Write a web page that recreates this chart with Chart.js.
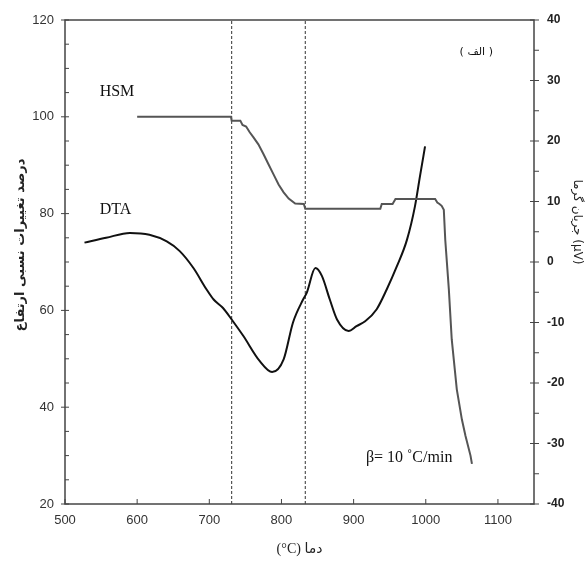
<!DOCTYPE html>
<html>
<head>
<meta charset="utf-8">
<script src="https://cdn.jsdelivr.net/npm/chart.js@4"></script>
<style>
  html, body { margin: 0; padding: 0; background: #fff; }
</style>
</head>
<body>
<canvas id="myChart" width="585" height="563"></canvas>
<script>
// HSM: relative height change (%), left axis
var hsmTemp = [600, 730, 731, 743, 746, 751, 756, 761, 768, 775, 782, 789, 796, 803, 810, 819, 831, 833, 937, 939, 954, 958, 1013, 1016, 1019, 1022, 1025, 1027, 1032, 1036, 1043, 1050, 1055, 1062, 1064];
var hsmValue = [100, 100, 99.2, 99.2, 98.3, 98.0, 96.8, 95.8, 94.3, 92.3, 90.2, 88.1, 86.0, 84.4, 83.1, 82.1, 82.0, 81.0, 81.0, 82.0, 82.0, 83.0, 83.0, 82.3, 82.0, 81.6, 80.8, 74.6, 64.3, 54.0, 43.7, 37.5, 34.1, 30.0, 28.3];

// DTA: heat flow (µV), right axis
var dtaTemp = [527, 557, 590, 617, 641, 659, 678, 696, 706, 719, 731, 747, 770, 787, 803, 816, 830, 835, 847, 856, 867, 877, 893, 904, 916, 932, 946, 960, 974, 985, 992, 999];
var dtaValue = [3.2, 4.0, 4.8, 4.5, 3.4, 1.8, -1.0, -4.5, -6.2, -7.6, -9.5, -12.2, -16.4, -18.2, -16.1, -10.0, -6.2, -5.1, -1.0, -2.3, -6.2, -9.5, -11.4, -10.6, -9.8, -7.8, -4.5, -0.7, 3.7, 9.2, 14.2, 19.1];

// vertical dashed markers (°C)
var markerTemps = [731, 833];

// axis ranges / ticks
var xTicks = [500, 1150, 100];
var leftTicks = [20, 120, 20];
var rightTicks = [-40, 40, 10];

function toPoints(xs, ys) {
    var pts = [];
    for (var i = 0; i < xs.length; i++) pts.push({ x: xs[i], y: ys[i] });
    return pts;
}

var datasets = [
    {
        label: 'HSM',
        data: toPoints(hsmTemp, hsmValue),
        yAxisID: 'y',
        borderColor: '#555',
        borderWidth: 2,
        pointRadius: 0,
        tension: 0
    },
    {
        label: 'DTA',
        data: toPoints(dtaTemp, dtaValue),
        yAxisID: 'y1',
        borderColor: '#111',
        borderWidth: 2,
        pointRadius: 0,
        cubicInterpolationMode: 'monotone'
    }
];
markerTemps.forEach(function(t) {
    datasets.push({
        label: 'marker',
        data: [{ x: t, y: leftTicks[0] }, { x: t, y: leftTicks[1] }],
        yAxisID: 'y',
        borderColor: '#333',
        borderWidth: 1,
        borderDash: [3, 2],
        pointRadius: 0
    });
});

// frame, tick marks and in-plot labels
var framePlugin = {
    id: 'frame',
    afterDatasetsDraw: function(chart) {
        var ctx = chart.ctx, a = chart.chartArea;
        var sx = chart.scales.x, sl = chart.scales.y, sr = chart.scales.y1;
        ctx.save();
        ctx.strokeStyle = '#444';
        ctx.lineWidth = 1.5;
        ctx.strokeRect(a.left, a.top, a.right - a.left, a.bottom - a.top);

        ctx.lineWidth = 1;
        ctx.beginPath();
        sx.ticks.forEach(function(t) {
            var px = sx.getPixelForValue(t.value);
            ctx.moveTo(px, a.bottom);
            ctx.lineTo(px, a.bottom - 5);
        });
        for (var v = leftTicks[0]; v <= leftTicks[1]; v += leftTicks[2] / 4) {
            var py = sl.getPixelForValue(v);
            if ((v - leftTicks[0]) % leftTicks[2] === 0) { ctx.moveTo(a.left - 4, py); ctx.lineTo(a.left + 4, py); }
            else { ctx.moveTo(a.left, py); ctx.lineTo(a.left + 4, py); }
        }
        for (var w = rightTicks[0]; w <= rightTicks[1]; w += rightTicks[2] / 2) {
            var qy = sr.getPixelForValue(w);
            if ((w - rightTicks[0]) % rightTicks[2] === 0) { ctx.moveTo(a.right - 4, qy); ctx.lineTo(a.right + 5, qy); }
            else { ctx.moveTo(a.right, qy); ctx.lineTo(a.right + 5, qy); }
        }
        ctx.stroke();

        // labels inside the plot, anchored in data units
        ctx.fillStyle = '#111';
        ctx.textBaseline = 'middle';
        ctx.textAlign = 'left';
        ctx.font = '16px "Liberation Serif"';
        ctx.fillText('HSM', sx.getPixelForValue(548), sl.getPixelForValue(105.2));
        ctx.fillText('DTA', sx.getPixelForValue(548), sl.getPixelForValue(80.8));
        ctx.fillText('β= 10 ˚C/min', sx.getPixelForValue(917), sl.getPixelForValue(29.5));
        ctx.textAlign = 'center';
        ctx.font = '11px "DejaVu Sans"';
        ctx.fillText('( الف )', sx.getPixelForValue(1070), sl.getPixelForValue(113.4));

        // axis titles
        ctx.fillStyle = '#222';
        ctx.font = 'bold 13px "DejaVu Sans"';
        ctx.translate(21, 245);
        ctx.rotate(-Math.PI / 2);
        ctx.fillText('درصد تغییرات نسبی ارتفاع', 0, 0);
        ctx.rotate(Math.PI / 2);
        ctx.translate(-21, -245);
        ctx.font = '12px "DejaVu Sans"';
        ctx.translate(577, 222);
        ctx.rotate(Math.PI / 2);
        ctx.fillText('جریان گرما (μV)', 0, 0);
        ctx.restore();
    }
};

Chart.defaults.font.family = '"Liberation Sans", Arial, sans-serif';

function plainTick(value) { return String(value); }

var ctx = document.getElementById('myChart').getContext('2d');
var myChart = new Chart(ctx, {
    type: 'line',
    data: { datasets: datasets },
    options: {
        responsive: false,
        animation: false,
        layout: { padding: { top: 20, left: 0, right: 0, bottom: 0 } },
        plugins: { legend: { display: false }, tooltip: { enabled: false } },
        scales: {
            x: {
                type: 'linear',
                min: xTicks[0],
                max: xTicks[1],
                grid: { display: false },
                border: { display: false },
                ticks: { stepSize: xTicks[2], includeBounds: false, font: { size: 13 }, color: '#333', padding: 1, maxRotation: 0, callback: plainTick },
                title: { display: true, text: '(°C) دما', font: { size: 14, family: '"Liberation Serif", "DejaVu Sans"' }, color: '#222', padding: { top: 0, bottom: 5 } },
                afterFit: function(s) { s.height = 59; }
            },
            y: {
                position: 'left',
                min: leftTicks[0],
                max: leftTicks[1],
                grid: { display: false },
                border: { display: false },
                ticks: { stepSize: leftTicks[2], font: { size: 13 }, color: '#333', padding: 3, callback: plainTick },
                afterFit: function(s) { s.width = 65; }
            },
            y1: {
                position: 'right',
                min: rightTicks[0],
                max: rightTicks[1],
                grid: { display: false },
                border: { display: false },
                ticks: { stepSize: rightTicks[2], font: { size: 12, weight: 'bold' }, color: '#222', padding: 5, callback: plainTick },
                afterFit: function(s) { s.width = 51; }
            }
        }
    },
    plugins: [framePlugin]
});
</script>
</body>
</html>
